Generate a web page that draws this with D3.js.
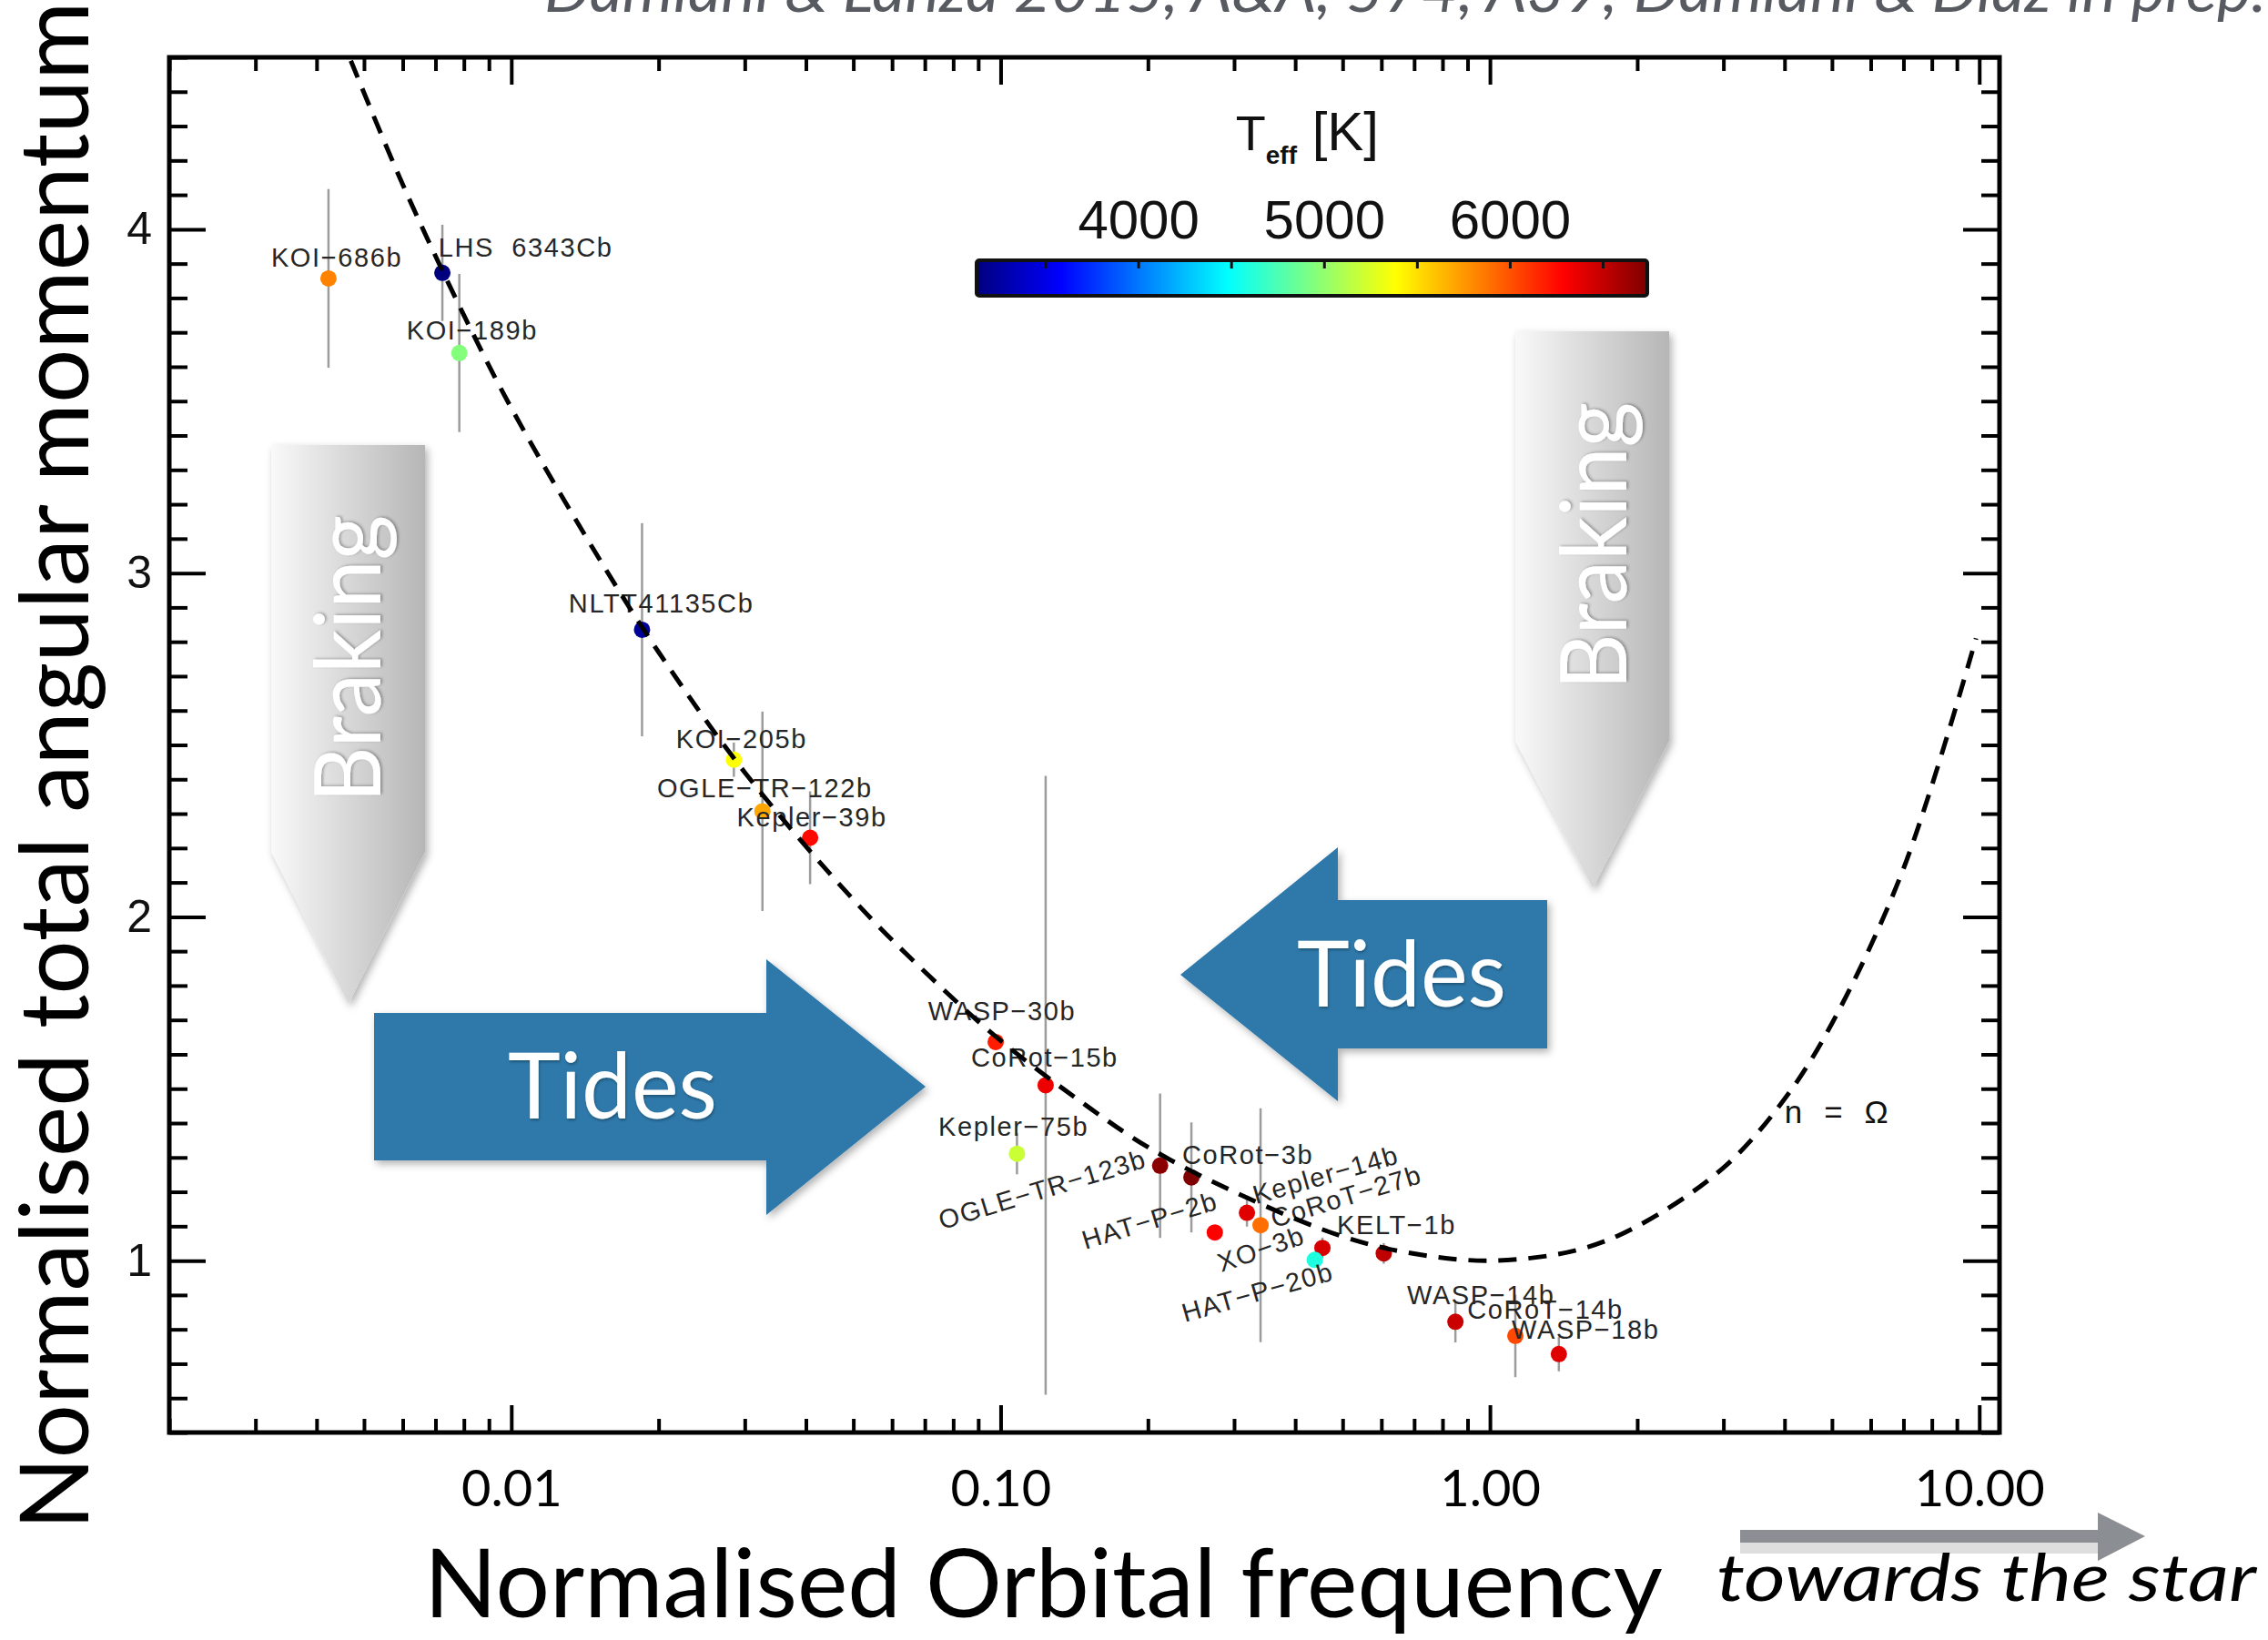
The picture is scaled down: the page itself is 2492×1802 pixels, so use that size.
<!DOCTYPE html>
<html>
<head>
<meta charset="utf-8">
<title>Normalised total angular momentum</title>
<script src="https://d3js.org/d3.v7.min.js"></script>
<style>
  body { margin: 0; background: #fff; }
  text { font-family: "Liberation Sans", Arial, sans-serif; }
</style>
</head>
<body>
<script>
// ---- data ----
var names = ["KOI−686b", "LHS  6343Cb", "KOI−189b", "NLTT41135Cb", "KOI−205b", "OGLE−TR−122b",
  "Kepler−39b", "WASP−30b", "CoRot−15b", "Kepler−75b", "OGLE−TR−123b", "CoRot−3b", "HAT−P−2b",
  "Kepler−14b", "CoRoT−27b", "XO−3b", "HAT−P−20b", "KELT−1b", "WASP−14b", "CoRoT−14b", "WASP−18b"];
var freq = [0.00423, 0.00723, 0.00783, 0.0185, 0.0285, 0.0326, 0.0408, 0.0977, 0.1236, 0.108, 0.2118,
  0.2454, 0.274, 0.3187, 0.3398, 0.4546, 0.4385, 0.6067, 0.85, 1.127, 1.383];
var angmom = [3.857, 3.873, 3.640, 2.835, 2.457, 2.307, 2.230, 1.636, 1.510, 1.311, 1.276,
  1.242, 1.082, 1.139, 1.103, 1.037, 1.002, 1.021, 0.822, 0.781, 0.728];
var angmomErr = [0.26, 0.14, 0.23, 0.31, 0.05, 0.29, 0.135, 0.02, 0.90, 0.06, 0.21,
  0.16, 0.02, 0.04, 0.34, 0.03, 0.02, 0.03, 0.06, 0.12, 0.05];
var teff = [5830, 3130, 4950, 3230, 5380, 5700, 6260, 6190, 6350, 5200, 6700,
  6740, 6290, 6395, 5900, 6430, 4595, 6516, 6475, 6035, 6400];

// label anchors (data coordinates) and rotation in degrees
var labelFreq = [0.00323, 0.0071, 0.00611, 0.0131, 0.0217, 0.01985, 0.0289, 0.0711, 0.087, 0.0746, 0.0759,
  0.235, 0.149, 0.3325, 0.3623, 0.2826, 0.238, 0.487, 0.677, 0.899, 1.108];
var labelL = [3.892, 3.921, 3.680, 2.884, 2.490, 2.349, 2.264, 1.700, 1.565, 1.363, 1.090,
  1.281, 1.032, 1.164, 1.095, 0.966, 0.820, 1.077, 0.873, 0.830, 0.772];
var labelRot = [0, 0, 0, 0, 0, 0, 0, 0, 0, 0, -17, 0, -17, -16, -17, -19, -16, 0, 0, 0, 0];

// n = Omega curve
var curveFreq = [0.0047, 0.006, 0.008, 0.01, 0.015, 0.02, 0.03, 0.05, 0.07, 0.1, 0.15, 0.2, 0.3,
  0.5, 0.7, 1.0, 1.5, 2, 3, 4, 5, 7, 9.85];
var curveL = [4.49, 4.13, 3.75, 3.48, 3.05, 2.77, 2.42, 2.05, 1.84, 1.64, 1.45, 1.33, 1.20,
  1.07, 1.02, 1.00, 1.03, 1.10, 1.27, 1.47, 1.69, 2.14, 2.81];

var xMajor = [0.01, 0.1, 1, 10];
var xMajorLabels = ["0.01", "0.10", "1.00", "10.00"];
var yMajor = [1, 2, 3, 4];
var cbLabels = [4000, 5000, 6000];
var cbMinorTicks = [3500, 4000, 4500, 5000, 5500, 6000, 6500];
var teffRange = [3130, 6740];

// ---- layout ----
var W = 2492, H = 1802;
var pLeft = 186, pRight = 2197, pTop = 63, pBottom = 1574;

var svg = d3.select("body").append("svg")
    .attr("width", W)
    .attr("height", H);

var defs = svg.append("defs");
var shadow = defs.append("filter").attr("id", "shadow")
    .attr("x", "-20%").attr("y", "-20%").attr("width", "140%").attr("height", "140%");
shadow.append("feDropShadow").attr("dx", 3).attr("dy", 4).attr("stdDeviation", 4)
    .attr("flood-color", "#000").attr("flood-opacity", 0.3);
var tshadow = defs.append("filter").attr("id", "tshadow")
    .attr("x", "-20%").attr("y", "-20%").attr("width", "140%").attr("height", "140%");
tshadow.append("feDropShadow").attr("dx", 1).attr("dy", 2).attr("stdDeviation", 1.5)
    .attr("flood-color", "#000").attr("flood-opacity", 0.3);

var grey = defs.append("linearGradient").attr("id", "greyGrad")
    .attr("x1", 0).attr("x2", 1).attr("y1", 0).attr("y2", 0);
grey.append("stop").attr("offset", 0).attr("stop-color", "#f9f9f9");
grey.append("stop").attr("offset", 1).attr("stop-color", "#b6b6b6");

var x = d3.scaleLog().domain([0.002, 11]).range([pLeft, pRight]);
var y = d3.scaleLinear().domain([0.5, 4.5]).range([pBottom, pTop]);

var jetT = [0, 0.125, 0.375, 0.625, 0.875, 1];
var jetColors = ["#00007f", "#0000ff", "#00ffff", "#ffff00", "#ff0000", "#7f0000"];
var color = d3.scaleLinear()
    .domain(jetT.map(function(t) { return teffRange[0] + t * (teffRange[1] - teffRange[0]); }))
    .range(jetColors)
    .interpolate(d3.interpolateRgb)
    .clamp(true);

// citation, cut at the top edge
svg.append("text")
    .attr("x", 598).attr("y", 13)
    .attr("textLength", 1892).attr("lengthAdjust", "spacingAndGlyphs")
    .style("font-family", "Lato, sans-serif").style("font-style", "italic")
    .style("font-size", "66px").attr("fill", "#575b61")
    .text("Damiani & Lanza 2015, A&A, 574, A39; Damiani & Díaz in prep.");

// axis titles
var xt = svg.append("text")
    .attr("x", 466).attr("y", 1777)
    .style("font-family", "Lato, sans-serif").style("font-size", "100px")
    .text("Normalised Orbital frequency");
var fs = 100 * 1361 / xt.node().getComputedTextLength();
xt.style("font-size", fs + "px");

svg.append("text")
    .attr("transform", "translate(97,1681) rotate(-90)")
    .style("font-family", "Lato, sans-serif").style("font-size", fs + "px")
    .text("Normalised total angular momentum");

// axes: minor and major ticks on all four sides
function styleAxis(g) {
  g.select(".domain").remove();
  g.selectAll("line").attr("stroke", "#000").attr("stroke-width", 4);
}
var xMinor = x.ticks().filter(function(v) { return xMajor.indexOf(v) < 0; });
var yMinor = y.ticks(40).filter(function(v) { return yMajor.indexOf(v) < 0; });

svg.append("g").attr("transform", "translate(0," + pBottom + ")")
    .call(d3.axisBottom(x).tickValues(xMinor).tickSizeInner(-15).tickSizeOuter(0).tickFormat(""))
    .call(styleAxis);
svg.append("g").attr("transform", "translate(0," + pTop + ")")
    .call(d3.axisTop(x).tickValues(xMinor).tickSizeInner(-15).tickSizeOuter(0).tickFormat(""))
    .call(styleAxis);
svg.append("g").attr("transform", "translate(0," + pTop + ")")
    .call(d3.axisTop(x).tickValues(xMajor).tickSizeInner(-30).tickSizeOuter(0).tickFormat(""))
    .call(styleAxis);
var gxb = svg.append("g").attr("transform", "translate(0," + pBottom + ")")
    .call(d3.axisBottom(x).tickValues(xMajor).tickSizeInner(-30).tickSizeOuter(0).tickPadding(41)
      .tickFormat(function(d, i) { return xMajorLabels[i]; }))
    .call(styleAxis);
gxb.selectAll("text").attr("fill", "#000")
    .style("font-family", "Lato, sans-serif").style("font-size", "56px");

svg.append("g").attr("transform", "translate(" + pLeft + ",0)")
    .call(d3.axisLeft(y).tickValues(yMinor).tickSizeInner(-20).tickSizeOuter(0).tickFormat(""))
    .call(styleAxis);
svg.append("g").attr("transform", "translate(" + pRight + ",0)")
    .call(d3.axisRight(y).tickValues(yMinor).tickSizeInner(-20).tickSizeOuter(0).tickFormat(""))
    .call(styleAxis);
svg.append("g").attr("transform", "translate(" + pRight + ",0)")
    .call(d3.axisRight(y).tickValues(yMajor).tickSizeInner(-40).tickSizeOuter(0).tickFormat(""))
    .call(styleAxis);
var gyl = svg.append("g").attr("transform", "translate(" + pLeft + ",0)")
    .call(d3.axisLeft(y).tickValues(yMajor).tickSizeInner(-40).tickSizeOuter(0).tickPadding(19)
      .tickFormat(d3.format("d")))
    .call(styleAxis);
gyl.selectAll("text").attr("fill", "#111")
    .style("font-family", "'Liberation Sans', Arial, sans-serif").style("font-size", "50px");

svg.append("rect")
    .attr("x", pLeft).attr("y", pTop)
    .attr("width", pRight - pLeft).attr("height", pBottom - pTop)
    .attr("fill", "none").attr("stroke", "#000").attr("stroke-width", 5);

// error bars
var plot = svg.append("g");
plot.selectAll("line.err")
    .data(freq)
    .enter().append("line")
    .attr("class", "err")
    .attr("x1", function(d) { return x(d); })
    .attr("x2", function(d) { return x(d); })
    .attr("y1", function(d, i) { return y(angmom[i] + angmomErr[i]); })
    .attr("y2", function(d, i) { return y(angmom[i] - angmomErr[i]); })
    .attr("stroke", "#9c9c9c").attr("stroke-width", 2.5);

// points coloured by Teff
plot.selectAll("circle.planet")
    .data(freq)
    .enter().append("circle")
    .attr("class", "planet")
    .attr("cx", function(d) { return x(d); })
    .attr("cy", function(d, i) { return y(angmom[i]); })
    .attr("r", 9)
    .attr("fill", function(d, i) { return color(teff[i]); });

// planet labels
plot.selectAll("text.name")
    .data(names)
    .enter().append("text")
    .attr("class", "name")
    .attr("transform", function(d, i) {
      return "translate(" + x(labelFreq[i]) + "," + y(labelL[i]) + ") rotate(" + labelRot[i] + ")";
    })
    .style("font-size", "29px").style("letter-spacing", "1.6px").style("white-space", "pre")
    .attr("fill", "#262626")
    .text(function(d) { return d; });

// n = Omega curve
var line = d3.line()
    .x(function(d) { return x(d); })
    .y(function(d, i) { return y(curveL[i]); })
    .curve(d3.curveCatmullRom.alpha(0.5));
plot.append("path")
    .attr("d", line(curveFreq))
    .attr("fill", "none").attr("stroke", "#000")
    .attr("stroke-width", 5).attr("stroke-dasharray", "20,13");

plot.append("text")
    .attr("x", x(4.0)).attr("y", y(1.40))
    .style("font-size", "35px").style("letter-spacing", "1.5px").style("white-space", "pre")
    .attr("fill", "#111")
    .text("n  =  Ω");

// colour bar
var cb = d3.scaleLinear().domain(teffRange).range([1073, 1810]);
var cbGrad = defs.append("linearGradient").attr("id", "cbGrad")
    .attr("x1", 0).attr("x2", 1).attr("y1", 0).attr("y2", 0);
cbGrad.selectAll("stop")
    .data(d3.range(0, 1.001, 0.025))
    .enter().append("stop")
    .attr("offset", function(d) { return d; })
    .attr("stop-color", function(d) { return color(teffRange[0] + d * (teffRange[1] - teffRange[0])); });

svg.append("rect")
    .attr("x", cb.range()[0]).attr("y", 286)
    .attr("width", cb.range()[1] - cb.range()[0]).attr("height", 39)
    .attr("rx", 3)
    .attr("fill", "url(#cbGrad)").attr("stroke", "#111").attr("stroke-width", 4);
svg.append("g").attr("transform", "translate(0,286)")
    .call(d3.axisTop(cb).tickValues(cbMinorTicks).tickSizeInner(-9).tickSizeOuter(0).tickFormat(""))
    .call(function(g) { g.select(".domain").remove(); g.selectAll("line").attr("stroke", "#111").attr("stroke-width", 3); });
var cbl = svg.append("g").attr("transform", "translate(0,286)")
    .call(d3.axisTop(cb).tickValues(cbLabels).tickSize(0).tickPadding(24).tickFormat(d3.format("d")));
cbl.select(".domain").remove();
cbl.selectAll("text").attr("fill", "#111")
    .style("font-family", "'Liberation Sans', Arial, sans-serif").style("font-size", "60px");

var cbt = svg.append("text")
    .attr("x", cb(4910)).attr("y", 165)
    .attr("text-anchor", "middle").attr("fill", "#111");
cbt.append("tspan").style("font-size", "54px").text("T");
cbt.append("tspan").attr("dy", 15).style("font-size", "28px").style("font-weight", "bold").text("eff");
cbt.append("tspan").attr("dy", -15).style("font-size", "60px").style("white-space", "pre").text(" [K]");

// overlay arrows
var over = svg.append("g");
function poly(pts) { return "M" + pts.map(function(p) { return p.join(","); }).join("L") + "Z"; }

var braking = [
  { pts: [[298, 489], [467, 489], [467, 936], [383, 1103], [298, 936]], tx: 418, ty: 724 },
  { pts: [[1665, 364], [1834, 364], [1834, 814], [1750, 976], [1665, 814]], tx: 1787, ty: 600 }
];
braking.forEach(function(b) {
  over.append("path").attr("d", poly(b.pts))
      .attr("fill", "url(#greyGrad)").attr("filter", "url(#shadow)");
  over.append("text")
      .attr("transform", "translate(" + b.tx + "," + b.ty + ") rotate(-90)")
      .attr("text-anchor", "middle")
      .attr("textLength", 316).attr("lengthAdjust", "spacingAndGlyphs")
      .style("font-family", "Lato, sans-serif").style("font-size", "101px")
      .attr("fill", "#fff").attr("filter", "url(#tshadow)")
      .text("Braking");
});

var tides = [
  { pts: [[411, 1113], [842, 1113], [842, 1054], [1017, 1194], [842, 1335], [842, 1275], [411, 1275]], tx: 558, ty: 1229 },
  { pts: [[1700, 989], [1470, 989], [1470, 931], [1297, 1071], [1470, 1210], [1470, 1152], [1700, 1152]], tx: 1425, ty: 1106 }
];
tides.forEach(function(t) {
  over.append("path").attr("d", poly(t.pts))
      .attr("fill", "#2e79aa").attr("filter", "url(#shadow)");
  over.append("text")
      .attr("x", t.tx).attr("y", t.ty)
      .attr("textLength", 230).attr("lengthAdjust", "spacingAndGlyphs")
      .style("font-family", "Lato, sans-serif").style("font-size", "100px")
      .attr("fill", "#fff").attr("filter", "url(#tshadow)")
      .text("Tides");
});

// "towards the star" arrow
over.append("rect").attr("x", 1912).attr("y", 1695).attr("width", 393).attr("height", 12)
    .attr("fill", "#dedede");
over.append("path").attr("d", poly([[1912, 1681], [2305, 1681], [2305, 1662], [2357, 1688],
    [2305, 1715], [2305, 1695], [1912, 1695]]))
    .attr("fill", "#8b8e93");
over.append("text")
    .attr("x", 1886).attr("y", 1759)
    .attr("textLength", 593).attr("lengthAdjust", "spacingAndGlyphs")
    .style("font-family", "Lato, sans-serif").style("font-style", "italic")
    .style("font-size", "72px").attr("fill", "#000")
    .text("towards the star");
</script>
</body>
</html>
